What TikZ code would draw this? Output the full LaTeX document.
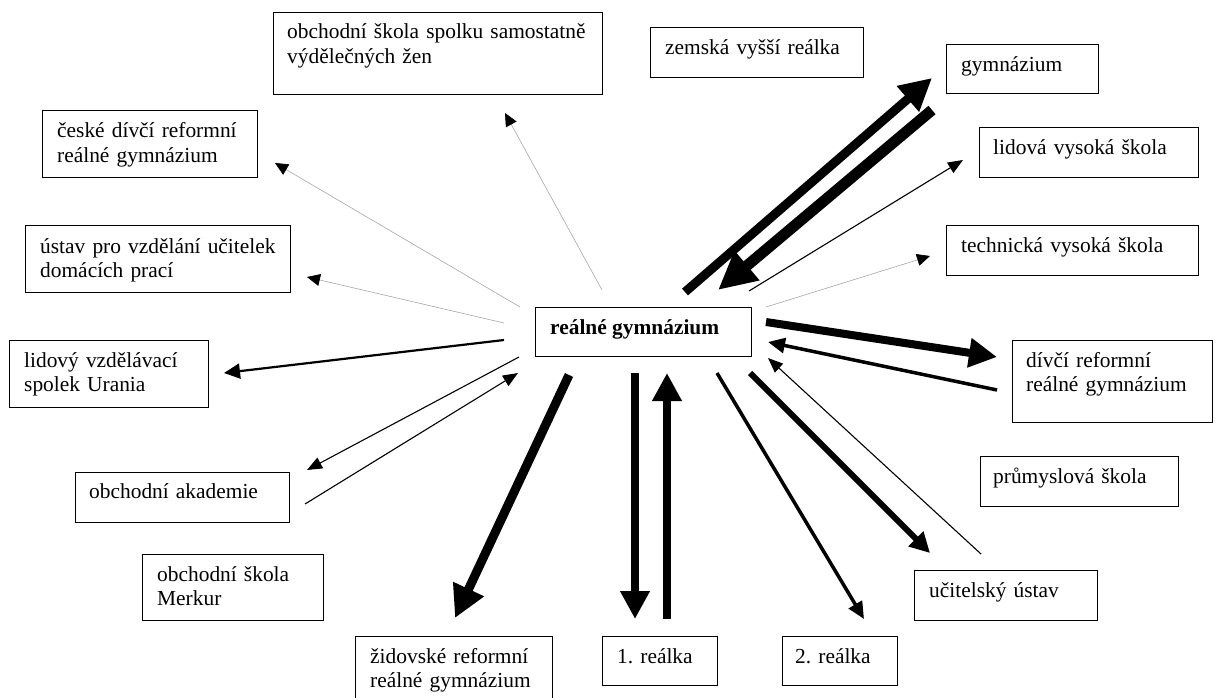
\documentclass[tikz,border=0pt]{standalone}
\usepackage{fontspec}
\setmainfont{Liberation Serif}
\usetikzlibrary{arrows.meta}
\frenchspacing
\begin{document}
\begin{tikzpicture}[x=1pt,y=-1pt,
  box/.style={draw=black, line width=1.4pt, inner sep=0pt, anchor=north west},
  txt/.style={anchor=base west, inner sep=0pt, align=left, text width=350pt, font=\fontsize{21.4}{24.2}\selectfont},
  hair/.style={draw=black!35, line width=0.6pt, -{Triangle[length=13pt,width=12pt,color=black]}},
  thinar/.style={draw=black, line width=1.1pt, -{Triangle[length=15pt,width=12pt]}},
  medar/.style={draw=black, line width=2.2pt, -{Triangle[length=16pt,width=15pt]}},
  midar/.style={draw=black, line width=3.5pt, -{Triangle[length=17pt,width=15pt]}},
  thickar/.style={draw=black, line width=6pt, -{Triangle[length=20pt,width=20pt]}},
  heavyar/.style={draw=black, line width=8pt, -{Triangle[length=28pt,width=28pt]}},
  hugear/.style={draw=black, line width=9pt, -{Triangle[length=32pt,width=32pt]}},
  giantar/.style={draw=black, line width=11pt, -{Triangle[length=38pt,width=36pt]}}
]
\useasboundingbox (0,0) rectangle (1217,698);

% boxes
\node[box, minimum width=329pt, minimum height=82pt] (spolku) at (273,12) {};
\node[txt] (spolkuT) at (287,39) {obchodní škola spolku samostatně\\výdělečných žen};
\node[box, minimum width=213pt, minimum height=50pt] (zemska) at (650,27) {};
\node[txt] (zemskaT) at (665,55) {zemská vyšší reálka};
\node[box, minimum width=152pt, minimum height=49pt] (gym) at (946,44) {};
\node[txt] (gymT) at (961,72) {gymnázium};
\node[box, minimum width=215pt, minimum height=67pt] (ceske) at (42,110) {};
\node[txt] (ceskeT) at (57,138) {české dívčí reformní\\reálné gymnázium};
\node[box, minimum width=219pt, minimum height=50pt] (lidvs) at (979,127) {};
\node[txt] (lidvsT) at (993,154) {lidová vysoká škola};
\node[box, minimum width=265pt, minimum height=67pt] (ustav) at (25,225) {};
\node[txt] (ustavT) at (40,253) {ústav pro vzdělání učitelek\\domácích prací};
\node[box, minimum width=252pt, minimum height=50pt] (tech) at (946,225) {};
\node[txt] (techT) at (961,252) {technická vysoká škola};
\node[box, minimum width=216pt, minimum height=49pt] (rg) at (535,307) {};
\node[anchor=base west, inner sep=0pt, font=\fontsize{21.4}{24.2}\selectfont\bfseries] (rgT) at (550,334) {reálné gymnázium};
\node[box, minimum width=199pt, minimum height=67pt] (urania) at (9,340) {};
\node[txt] (uraniaT) at (24,367) {lidový vzdělávací\\spolek Urania};
\node[box, minimum width=200pt, minimum height=82pt] (divci) at (1012,340) {};
\node[txt] (divciT) at (1026,367) {dívčí reformní\\reálné gymnázium};
\node[box, minimum width=198pt, minimum height=50pt] (prum) at (980,456) {};
\node[txt] (prumT) at (993,483) {průmyslová škola};
\node[box, minimum width=214pt, minimum height=50pt] (akad) at (75,472) {};
\node[txt] (akadT) at (89,498) {obchodní akademie};
\node[box, minimum width=181pt, minimum height=66pt] (merkur) at (142,554) {};
\node[txt] (merkurT) at (157,581) {obchodní škola\\Merkur};
\node[box, minimum width=183pt, minimum height=50pt] (ucit) at (914,570) {};
\node[txt] (ucitT) at (929,597) {učitelský ústav};
\node[box, minimum width=197pt, minimum height=70pt] (zid) at (355,636) {};
\node[txt] (zidT) at (370,663) {židovské reformní\\reálné gymnázium};
\node[box, minimum width=115pt, minimum height=49pt] (r1) at (602,636) {};
\node[txt] (r1T) at (617,663) {1. reálka};
\node[box, minimum width=115pt, minimum height=49pt] (r2) at (782,636) {};
\node[txt] (r2T) at (795,663) {2. reálka};

% arrow end points
\coordinate (a1s) at (602,290);  \coordinate (a1e) at (505,113);
\coordinate (a2s) at (520,307);  \coordinate (a2e) at (275,163);
\coordinate (a3s) at (504,323);  \coordinate (a3e) at (307,277);
\coordinate (a4s) at (504,340);  \coordinate (a4e) at (224,373);
\coordinate (a5s) at (519,357);  \coordinate (a5e) at (307,470);
\coordinate (a6s) at (305,504);  \coordinate (a6e) at (518,373);
\coordinate (a7s) at (569,375);  \coordinate (a7e) at (455,618);
\coordinate (a8s) at (635,373);  \coordinate (a8e) at (635,619);
\coordinate (a9s) at (667,619);  \coordinate (a9e) at (667,373);
\coordinate (a10s) at (717,373); \coordinate (a10e) at (864,619);
\coordinate (a11s) at (750,373); \coordinate (a11e) at (930,553);
\coordinate (a12s) at (981,554); \coordinate (a12e) at (768,358);
\coordinate (a13s) at (997,390); \coordinate (a13e) at (768,342);
\coordinate (a14s) at (766,322); \coordinate (a14e) at (997,357);
\coordinate (a15s) at (766,307); \coordinate (a15e) at (930,256);
\coordinate (a16s) at (749,291); \coordinate (a16e) at (963,160);
\coordinate (a17s) at (685,292); \coordinate (a17e) at (932,78);
\coordinate (a18s) at (932,110); \coordinate (a18e) at (718,290);

% connectors
\draw[hair] (a1s) -- (a1e);
\draw[hair] (a2s) -- (a2e);
\draw[hair] (a3s) -- (a3e);
\draw[medar] (a4s) -- (a4e);
\draw[thinar] (a5s) -- (a5e);
\draw[thinar] (a6s) -- (a6e);
\draw[hugear] (a7s) -- (a7e);
\draw[heavyar] (a8s) -- (a8e);
\draw[heavyar] (a9s) -- (a9e);
\draw[midar] (a10s) -- (a10e);
\draw[thickar] (a11s) -- (a11e);
\draw[thinar] (a12s) -- (a12e);
\draw[midar] (a13s) -- (a13e);
\draw[heavyar] (a14s) -- (a14e);
\draw[hair] (a15s) -- (a15e);
\draw[thinar] (a16s) -- (a16e);
\draw[hugear] (a17s) -- (a17e);
\draw[giantar] (a18s) -- (a18e);
\end{tikzpicture}
\end{document}
